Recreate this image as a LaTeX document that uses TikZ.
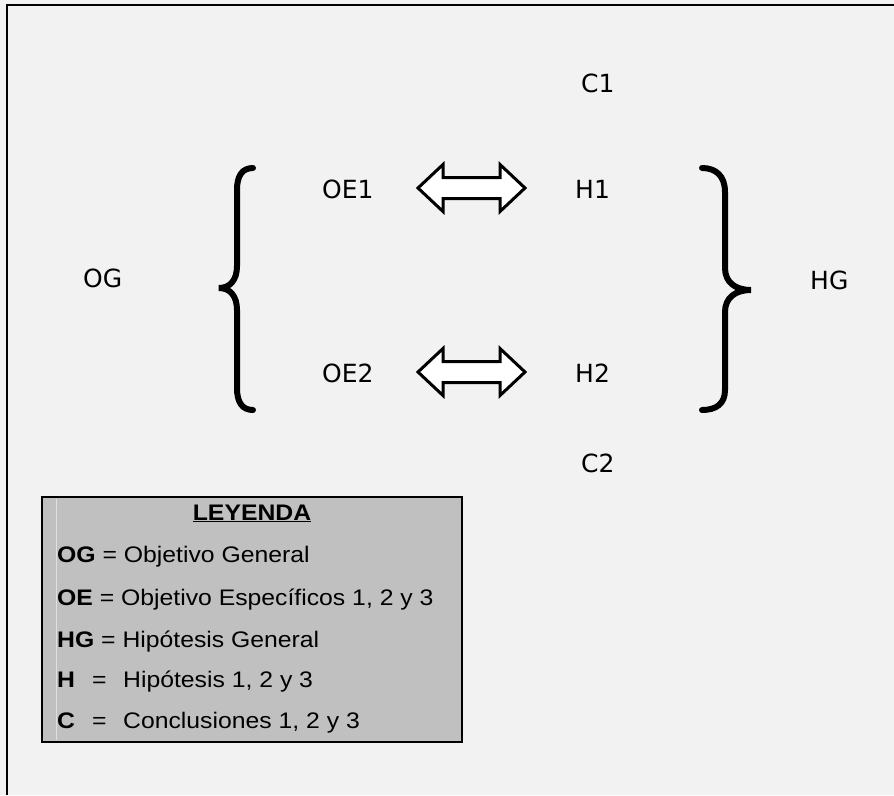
\documentclass[tikz,border=0pt]{standalone}
\usepackage{fontspec}
\setmainfont{Liberation Sans}
\newfontfamily\labfont{DejaVu Sans}
\newfontfamily\legfont[FakeStretch=1.1]{Liberation Sans}
\definecolor{bgc}{HTML}{F2F2F2}
\definecolor{legc}{HTML}{C0C0C0}
\begin{document}
\begin{tikzpicture}[x=1pt,y=-1pt,
  lab/.style={anchor=base west,inner sep=0pt,font=\labfont\fontsize{25}{30}\selectfont},
  legtxt/.style={anchor=base west,inner sep=0pt,font=\legfont\fontsize{22.5}{26}\selectfont},
  brace/.style={line width=6pt,line cap=round},
  dblarrow/.style={draw=black,fill=white,line width=3pt,line join=miter}]
\useasboundingbox (0,0) rectangle (894,795);
\fill[bgc] (0,0) rectangle (894,795);
\draw[line width=2.5pt] (7,795) -- (7,5) -- (894,5);
% labels
\node[lab] (c1) at (581,92) {C1};
\node[lab] (oe1) at (322,198) {OE1};
\node[lab] (h1) at (575,198) {H1};
\node[lab] (og) at (83,287) {OG};
\node[lab] (hg) at (810,289) {HG};
\node[lab] (oe2) at (322,382) {OE2};
\node[lab] (h2) at (575,382) {H2};
\node[lab] (c2) at (581,472) {C2};
% double arrows
\foreach \yy in {188,372}{
  \draw[dblarrow] (418,\yy) -- (443,\yy-23.5) -- (443,\yy-10.5) -- (500,\yy-10.5) -- (500,\yy-23.5)
    -- (525,\yy) -- (500,\yy+23.5) -- (500,\yy+10.5) -- (443,\yy+10.5) -- (443,\yy+23.5) -- cycle;
}
% left brace
\draw[brace] (253,168) .. controls (242,168) and (237,176) .. (237,190) -- (237,266)
  .. controls (237,280) and (230,288) .. (219,288)
  .. controls (230,288) and (237,296) .. (237,310) -- (237,388)
  .. controls (237,402) and (242,410) .. (253,410);
% right brace
\draw[brace] (702,168) .. controls (716,168) and (725,176) .. (725,192) -- (725,268)
  .. controls (725,282) and (735,290) .. (751,290)
  .. controls (735,290) and (725,298) .. (725,312) -- (725,390)
  .. controls (725,404) and (716,410) .. (702,410);
% legend
\draw[line width=2.5pt,fill=legc] (42,497) rectangle (462,742);
\draw[line width=0.8pt,color=black!12] (56,499) -- (56,740);
\node[anchor=base,inner sep=0pt,font=\legfont\fontsize{22.5}{26}\selectfont\bfseries] (ley) at (252,520) {\underline{LEYENDA}};
\node[legtxt] (l1) at (57,562) {\textbf{OG} = Objetivo General};
\node[legtxt] (l2) at (57,605) {\textbf{OE} = Objetivo Específicos 1, 2 y 3};
\node[legtxt] (l3) at (57,647) {\textbf{HG} = Hipótesis General};
\node[legtxt] (l4) at (57,687) {\makebox[35pt][l]{\textbf{H}}\makebox[31pt][l]{=}Hipótesis 1, 2 y 3};
\node[legtxt] (l5) at (57,728) {\makebox[35pt][l]{\textbf{C}}\makebox[31pt][l]{=}Conclusiones 1, 2 y 3};
\end{tikzpicture}
\end{document}
